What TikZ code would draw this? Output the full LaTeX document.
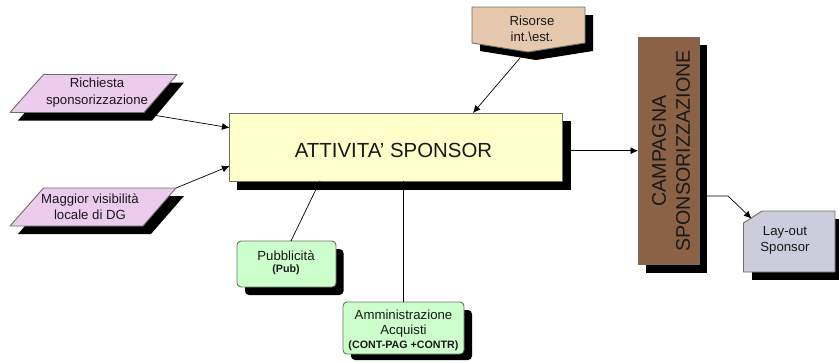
\documentclass[tikz,border=0pt]{standalone}
\usepackage{fontspec}
\setmainfont{Liberation Sans}
\usetikzlibrary{arrows.meta}
\definecolor{edgegray}{RGB}{110,110,100}
\definecolor{pinkfill}{RGB}{236,204,236}
\definecolor{yellowfill}{RGB}{255,255,204}
\definecolor{greenfill}{RGB}{204,255,204}
\definecolor{tanfill}{RGB}{230,200,175}
\definecolor{brownfill}{RGB}{140,98,70}
\definecolor{bluefill}{RGB}{204,204,220}
\definecolor{txt}{RGB}{25,25,25}
\tikzset{
  x=1pt,y=-1pt,
  shapeline/.style={draw=edgegray,line width=0.9pt,line join=round},
  shadowfill/.style={fill=black,draw=none},
  conn/.style={draw=black,line width=0.7pt},
  arrowconn/.style={conn,-{Latex[length=7.5pt,width=7pt]}},
  label/.style={inner sep=0pt,align=center,text=txt,font=\fontsize{13.2}{16.3}\selectfont},
  tiny/.style={inner sep=0pt,align=center,text=txt,font=\fontsize{10.7}{12}\selectfont\bfseries},
}
\begin{document}
\begin{tikzpicture}
\useasboundingbox (0,0) rectangle (839,362);
% shadows
\path[shadowfill] (18,120.5) -- (51,82.5) -- (184,82.5) -- (152,120.5) -- cycle;
\path[shadowfill] (18,234) -- (51,196) -- (184,196) -- (151,234) -- cycle;
\path[shadowfill] (237,121) rectangle (571,190);
\path[shadowfill,rounded corners=4pt] (245,249) rectangle (343.5,295);
\path[shadowfill,rounded corners=4pt] (351,310) rectangle (472,360);
\path[shadowfill] (480,15) -- (593,15) -- (593,51) -- (536,60) -- (480,51) -- cycle;
\path[shadowfill] (646,45) rectangle (707,273);
\path[shadowfill] (752,219) rectangle (839,279.5);
% shapes
\path[shapeline,fill=pinkfill] (10,112.5) -- (43.5,74.5) -- (177,74.5) -- (144,112.5) -- cycle;
\path[shapeline,fill=pinkfill] (10,226) -- (43.5,188) -- (176,188) -- (143,226) -- cycle;
\path[shapeline,fill=yellowfill] (229.5,113) rectangle (562,181);
\path[shapeline,fill=greenfill,rounded corners=4pt] (237,241) rectangle (336,287);
\path[shapeline,fill=greenfill,rounded corners=4pt] (343,302) rectangle (464,354);
\path[shapeline,fill=tanfill] (472,7) -- (585,7) -- (585,43) -- (528,52) -- (472,43) -- cycle;
\path[shapeline,fill=brownfill] (638,37) rectangle (699,264);
\path[shapeline,fill=bluefill] (762,211) -- (835,211) -- (835,272) -- (743.5,272) -- (743.5,223) -- cycle;
% connector ends
\coordinate (richiesta) at (156,115.5);
\coordinate (maggior) at (176,188);
\coordinate (risorse) at (520,58);
\coordinate (mainW1) at (229.5,127.7);
\coordinate (mainW2) at (229.5,166);
\coordinate (mainN) at (473,113);
\coordinate (mainE) at (571,150.7);
\coordinate (campW) at (638,150.7);
\coordinate (mainS1) at (320,181);
\coordinate (pubN) at (291,241);
\coordinate (mainS2) at (403.5,181);
\coordinate (ammN) at (403.5,302);
\coordinate (campE) at (707,196);
\coordinate (bend) at (728,196);
\coordinate (layN) at (751.5,218.5);
% connectors
\draw[arrowconn] (richiesta) -- (mainW1);
\draw[arrowconn] (maggior) -- (mainW2);
\draw[arrowconn] (risorse) -- (mainN);
\draw[arrowconn] (mainE) -- (campW);
\draw[conn] (mainS1) -- (pubN);
\draw[conn] (mainS2) -- (ammN);
\draw[arrowconn] (campE) -- (bend) -- (layN);
% labels
\node[label] (t1) at (97,92.5) {Richiesta\\sponsorizzazione};
\node[label] (t2) at (90,207) {Maggior visibilità\\locale di DG};
\node[label,font=\fontsize{20.4}{24}\selectfont] (t3) at (393.5,150) {ATTIVITA’ SPONSOR};
\node[label] (t4) at (532,28.5) {Risorse\\int.\textbackslash est.};
\node[label] (t5) at (286,256) {Pubblicità};
\node[tiny] (t6) at (286,270) {(Pub)};
\node[label,font=\fontsize{13.2}{15.5}\selectfont] (t7) at (403.5,323.5) {Amministrazione\\Acquisti};
\node[tiny] (t8) at (403.5,346) {(CONT-PAG +CONTR)};
\node[label,rotate=90,font=\fontsize{19.7}{24}\selectfont] (t9) at (671,151) {CAMPAGNA\\SPONSORIZZAZIONE};
\node[label] (t10) at (785,240.5) {Lay-out\\Sponsor};
\end{tikzpicture}
\end{document}
